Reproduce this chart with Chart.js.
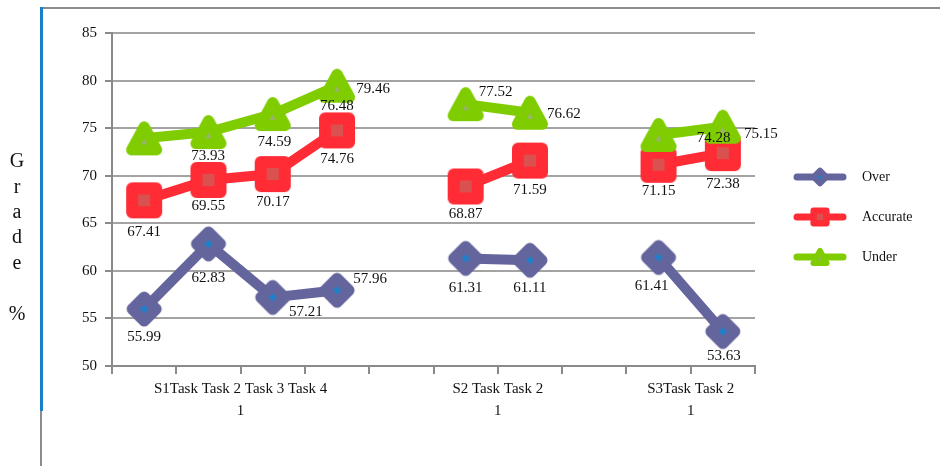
<!DOCTYPE html>
<html>
<head>
<meta charset="utf-8">
<script src="https://cdn.jsdelivr.net/npm/chart.js@4.4.1/dist/chart.umd.min.js"></script>
<style>
  html, body { margin: 0; padding: 0; background: #ffffff; }
  #wrap { width: 940px; height: 466px; }
</style>
</head>
<body>
<div id="wrap"><canvas id="c" width="940" height="466"></canvas></div>
<script>
// Task categories (blank entries separate the three sessions)
const categories = [["S1Task", "1"], "Task 2", "Task 3", "Task 4", "", ["S2 Task", "1"], "Task 2", "", ["S3Task", "1"], "Task 2"];
const seriesNames = ["Over", "Accurate", "Under"];
const overValues     = [55.99, 62.83, 57.21, 57.96, null, 61.31, 61.11, null, 61.41, 53.63];
const accurateValues = [67.41, 69.55, 70.17, 74.76, null, 68.87, 71.59, null, 71.15, 72.38];
const underValues    = [73.93, 74.59, 76.48, 79.46, null, 77.52, 76.62, null, 74.28, 75.15];
const yTicks = [50, 55, 60, 65, 70, 75, 80, 85];
const axisTitle = ["G", "r", "a", "d", "e", "", "%"];

const SERIF = '"Liberation Serif", "DejaVu Serif", serif';
const GRID = '#a3a3a3';
const AXIS = '#8a8a8a';

const colors = {
  Over:     { line: '#65659d', inner: '#1f7fc8' },
  Accurate: { line: '#ff2b35', inner: '#d9524f' },
  Under:    { line: '#7fcc00', inner: '#97b56b' }
};

// where each value label sits relative to its point (dx, dy in px)
const labelShift = {
  Over:     [[0, 28], [0, 34], [33, 15], [33, -11], null, [0, 30], [0, 28], null, [-7, 29], [1, 25]],
  Accurate: [[0, 32], [0, 26], [0, 28], [0, 29], null, [0, 28], [0, 29], null, [0, 26], [0, 31]],
  Under:    [[64, 18], [66, 10], [64, -8], [36, 3], null, [30, -12], [34, 1], null, [55, 3], [38, 7]]
};

// thick rounded marker outline with a small inner fill, centred on its bounding box
function drawMarker(ctx, name, cx, cy, k) {
  const c = colors[name];
  ctx.save();
  ctx.translate(cx, cy);
  ctx.scale(k, k);
  ctx.lineJoin = 'round';
  ctx.beginPath();
  let bw;
  if (name === 'Over') {
    bw = 11;
    const r = 12;
    ctx.moveTo(-r, 0); ctx.lineTo(0, -r); ctx.lineTo(r, 0); ctx.lineTo(0, r);
  } else if (name === 'Accurate') {
    bw = 12;
    ctx.rect(-12, -12, 24, 24);
  } else {
    bw = 11;
    ctx.moveTo(0, -11.5); ctx.lineTo(12.5, 11.5); ctx.lineTo(-12.5, 11.5);
  }
  ctx.closePath();
  ctx.fillStyle = c.inner;
  ctx.fill();
  ctx.lineWidth = bw;
  ctx.strokeStyle = c.line;
  ctx.stroke();
  ctx.restore();
}

function markerCanvas(name) {
  const cv = document.createElement('canvas');
  cv.width = 40; cv.height = 40;
  drawMarker(cv.getContext('2d'), name, 20, 20, 1);
  return cv;
}

// outer frame: grey top rule, blue left rule turning grey near the bottom
const framePlugin = {
  id: 'frame',
  beforeDraw(chart) {
    const ctx = chart.ctx;
    ctx.save();
    ctx.fillStyle = '#ffffff';
    ctx.fillRect(0, 0, chart.width, chart.height);
    ctx.lineWidth = 2;
    ctx.strokeStyle = '#8c8c8c';
    ctx.beginPath(); ctx.moveTo(40, 8); ctx.lineTo(940, 8); ctx.stroke();
    ctx.beginPath(); ctx.moveTo(41, 410); ctx.lineTo(41, 466); ctx.stroke();
    ctx.lineWidth = 3;
    ctx.strokeStyle = '#1b7fc6';
    ctx.beginPath(); ctx.moveTo(41.5, 7); ctx.lineTo(41.5, 411); ctx.stroke();
    ctx.restore();
  }
};

// stacked vertical axis title
const yTitlePlugin = {
  id: 'yTitle',
  afterDraw(chart) {
    const ctx = chart.ctx;
    ctx.save();
    ctx.font = '20px ' + SERIF;
    ctx.fillStyle = '#111111';
    ctx.textAlign = 'center';
    ctx.textBaseline = 'middle';
    axisTitle.forEach((ch, i) => ctx.fillText(ch, 17, 162 + i * 25.4));
    ctx.restore();
  }
};

// category labels: each session's tasks share one line, the wrapped "1" centred below
const xLabelPlugin = {
  id: 'xLabels',
  afterDraw(chart) {
    const ctx = chart.ctx;
    const xs = chart.scales.x;
    const groups = [];
    let cur = null;
    categories.forEach((c, i) => {
      if (c === "") { cur = null; return; }
      if (!cur) { cur = { first: i, last: i, l1: [], l2: [] }; groups.push(cur); }
      cur.last = i;
      if (Array.isArray(c)) { cur.l1.push(c[0]); cur.l2.push(c[1]); }
      else cur.l1.push(c);
    });
    ctx.save();
    ctx.font = '15px ' + SERIF;
    ctx.fillStyle = '#111111';
    ctx.textAlign = 'center';
    ctx.textBaseline = 'middle';
    groups.forEach(g => {
      const cx = (xs.getPixelForValue(g.first) + xs.getPixelForValue(g.last)) / 2;
      ctx.fillText(g.l1.join(' '), cx, 389);
      if (g.l2.length) ctx.fillText(g.l2.join(' '), cx, 411);
    });
    ctx.restore();
  }
};

// value labels next to each point
const valueLabelPlugin = {
  id: 'valueLabels',
  afterDatasetsDraw(chart) {
    const ctx = chart.ctx;
    ctx.save();
    ctx.font = '15px ' + SERIF;
    ctx.fillStyle = '#111111';
    ctx.textAlign = 'center';
    ctx.textBaseline = 'middle';
    chart.data.datasets.forEach((ds, di) => {
      const meta = chart.getDatasetMeta(di);
      const shifts = labelShift[ds.label];
      meta.data.forEach((pt, i) => {
        const v = ds.data[i];
        if (v === null || !shifts[i]) return;
        ctx.fillText(v.toFixed(2), pt.x + shifts[i][0], pt.y + shifts[i][1]);
      });
    });
    ctx.restore();
  }
};

// legend: line segment with marker, name on the right
const legendPlugin = {
  id: 'sideLegend',
  afterDraw(chart) {
    const ctx = chart.ctx;
    const rowY = [177, 217, 257];
    ctx.save();
    seriesNames.forEach((name, i) => {
      const y = rowY[i];
      ctx.lineCap = 'round';
      ctx.strokeStyle = colors[name].line;
      ctx.lineWidth = 7;
      ctx.beginPath(); ctx.moveTo(797, y); ctx.lineTo(843, y); ctx.stroke();
      drawMarker(ctx, name, 820, y, 0.53);
      ctx.font = '14px ' + SERIF;
      ctx.fillStyle = '#111111';
      ctx.textAlign = 'left';
      ctx.textBaseline = 'middle';
      ctx.fillText(name, 862, y);
    });
    ctx.restore();
  }
};

function series(name, values, order) {
  const c = colors[name];
  return {
    label: name,
    data: values,
    order: order,
    borderColor: c.line,
    borderWidth: 10,
    borderJoinStyle: 'round',
    borderCapStyle: 'round',
    pointStyle: markerCanvas(name),
    pointRadius: 17,
    spanGaps: false,
    clip: false,
    fill: false,
    tension: 0
  };
}

new Chart(document.getElementById('c'), {
  type: 'line',
  data: {
    labels: categories,
    datasets: [
      series(seriesNames[0], overValues, 3),
      series(seriesNames[1], accurateValues, 2),
      series(seriesNames[2], underValues, 1)
    ]
  },
  options: {
    responsive: false,
    devicePixelRatio: 1,
    animation: false,
    events: [],
    layout: { padding: { top: 33, right: 185, left: 0, bottom: 0 } },
    plugins: { legend: { display: false }, tooltip: { enabled: false } },
    scales: {
      x: {
        offset: true,
        afterFit(s) { s.height = 100; },
        grid: { offset: true, drawOnChartArea: false, drawTicks: true, tickLength: 8, color: AXIS, lineWidth: 2 },
        border: { display: true, color: AXIS, width: 2 },
        ticks: { display: false }
      },
      y: {
        min: 50,
        max: 85,
        afterFit(s) { s.width = 112; },
        afterBuildTicks(s) { s.ticks = yTicks.map(v => ({ value: v })); },
        grid: { color: GRID, lineWidth: 2, tickColor: AXIS, tickLength: 7 },
        border: { display: true, color: AXIS, width: 2 },
        ticks: { padding: 8, color: '#111111', font: { family: SERIF, size: 15 } }
      }
    }
  },
  plugins: [framePlugin, yTitlePlugin, xLabelPlugin, valueLabelPlugin, legendPlugin]
});
</script>
</body>
</html>
